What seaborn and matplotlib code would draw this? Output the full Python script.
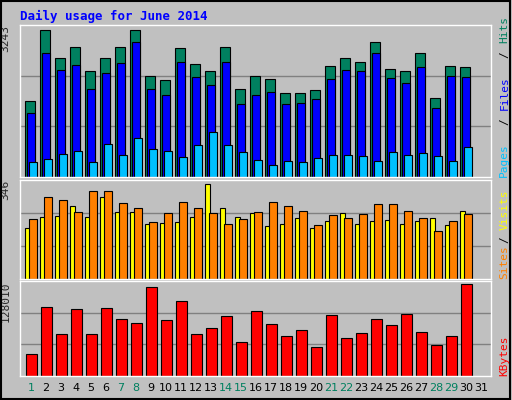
import numpy as np
import matplotlib
matplotlib.use("Agg")
import matplotlib.pyplot as plt
import seaborn as sns

days = [str(d) for d in range(1, 32)]
hits = [1666, 3243, 2627, 2869, 2326, 2627, 2869, 3243, 2230, 2142, 2847, 2495, 2326, 2869, 1944,
        2230, 2164, 1856, 1856, 1922, 2451, 2627, 2539, 2979, 2385, 2340, 2737, 1746, 2451, 2429]
files = [1416, 2722, 2363, 2473, 1944, 2297, 2517, 2979, 1944, 1812, 2539, 2208, 2032, 2539, 1614,
         1812, 1878, 1614, 1636, 1724, 2164, 2363, 2340, 2737, 2186, 2076, 2429, 1526, 2230, 2208]
pages = [338, 404, 514, 580, 338, 734, 492, 866, 624, 580, 448, 712, 998, 712, 558,
         382, 271, 360, 338, 426, 492, 492, 470, 360, 558, 492, 536, 470, 360, 668]
visits = [185, 226, 230, 267, 226, 301, 245, 245, 200, 204, 207, 226, 346, 260, 226,
          241, 192, 200, 222, 185, 211, 241, 200, 211, 215, 200, 211, 222, 196, 249]
sites = [219, 301, 290, 245, 323, 320, 279, 260, 207, 241, 282, 260, 241, 200, 219,
         245, 282, 267, 249, 196, 234, 222, 237, 275, 275, 249, 222, 177, 211, 237]
kbytes = [31302, 95776, 59334, 92973, 59334, 94374, 80358, 74752, 123808, 78957, 104186, 59334,
          67744, 83162, 48122, 90170, 73350, 56531, 64941, 41114, 84563, 53728, 60736, 80358,
          71949, 85965, 62138, 43917, 56531, 128010]
weekend = [1, 7, 8, 14, 15, 21, 22, 28, 29]

sns.set_style("white")
plt.rcParams['font.family'] = ['DejaVu Sans Mono']

fig = plt.figure(figsize=(5.12, 4.0), dpi=100, facecolor="#C0C0C0")
fig.patches.append(plt.Rectangle((0.002, 0.003), 0.994, 0.994, transform=fig.transFigure,
                                 fill=False, ec="black", lw=1.5))
fig.text(20 / 512, 1 - 16 / 400, "Daily usage for June 2014", color="#0000FF",
         fontsize=9, fontweight="bold", va="center")

x = np.arange(30)
ek = dict(edgecolor="black", linewidth=0.8, align="edge")


def panel(bottom, height, ymax, label):
    ax = fig.add_axes([20 / 512, bottom, 471 / 512, height])
    ax.set_facecolor("#C0C0C0")
    ax.set_xlim(-0.33, 31.07)
    ax.set_ylim(0, ymax)
    for g in (ymax / 3, 2 * ymax / 3):
        ax.axhline(g, color="#808080", lw=1, zorder=0)
    ax.set_xticks([])
    ax.set_yticks([])
    for s in ax.spines.values():
        s.set_color("white")
        s.set_linewidth(1)
    ax.text(-0.02, 1, label, transform=ax.transAxes, rotation=90, ha="right", va="top",
            fontsize=8)
    return ax


ax1 = panel(1 - 177 / 400, 152 / 400, 3346, "3243")
ax1.bar(x, hits, width=0.67, color="#00805F", **ek)
ax1.bar(x + 0.13, files, width=0.54, color="#0000FF", **ek)
ax1.bar(x + 0.27, pages, width=0.53, color="#00C0FF", **ek)

ax2 = panel(1 - 279 / 400, 99 / 400, 362, "346")
ax2.bar(x, visits, width=0.33, color="#FFFF00", **ek)
ax2.bar(x + 0.27, sites, width=0.53, color="#FF8000", **ek)

ax3 = panel(1 - 376 / 400, 95 / 400, 132770, "128010")
ax3.bar(x + 0.07, kbytes, width=0.73, color="#FF0000", **ek)

for i, d in enumerate(days):
    c = "#00805F" if int(d) in weekend else "black"
    ax3.text(i + 0.4, -0.13, d, transform=ax3.get_xaxis_transform(), ha="center", va="center",
             color=c, fontsize=8, family="DejaVu Sans")


def side(ax, parts):
    # stacked rotated label on the right, reading bottom to top
    y = 0.0
    fx = 0.985
    b = ax.get_position()
    for txt, col, frac in parts:
        fig.text(fx, b.y0 + b.height * (1 - frac) if False else b.y0 + y * b.height, txt,
                 rotation=90, color=col, fontsize=8, ha="center", va="bottom")
        y += frac


side(ax1, [("Pages", "#00C0FF", 0.34), ("/", "black", 0.1), ("Files", "#0000FF", 0.34),
           ("/", "black", 0.1), ("Hits", "#00805F", 0.3)])
side(ax2, [("Sites", "#FF8000", 0.36), ("/", "black", 0.14), ("Visits", "#FFFF00", 0.5)])
side(ax3, [("KBytes", "#FF0000", 1.0)])

fig.savefig("out.png", dpi=100, facecolor=fig.get_facecolor())
